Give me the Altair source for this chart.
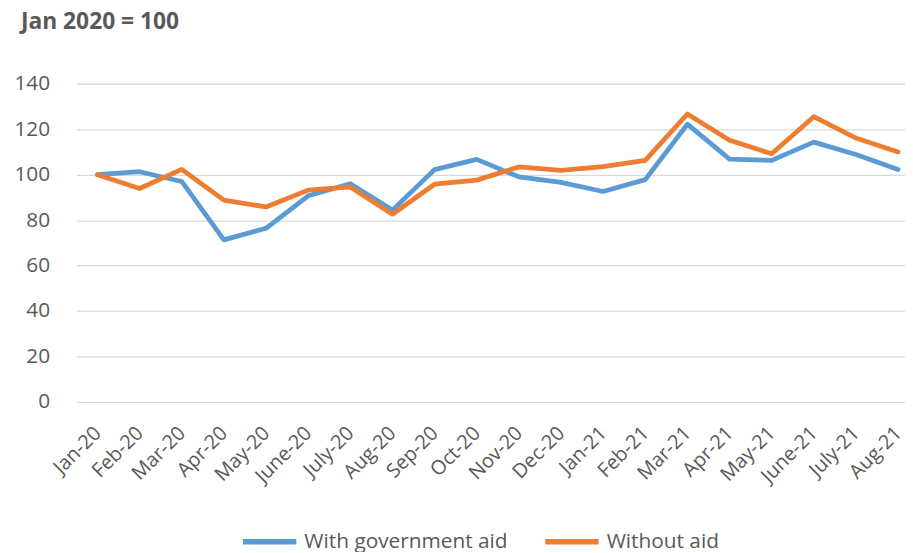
import altair as alt
import pandas as pd

months = ["Jan-20", "Feb-20", "Mar-20", "Apr-20", "May-20", "June-20", "July-20",
          "Aug-20", "Sep-20", "Oct-20", "Nov-20", "Dec-20", "Jan-21", "Feb-21",
          "Mar-21", "Apr-21", "May-21", "June-21", "July-21", "Aug-21"]
with_aid = [100, 101.3, 97.0, 71.3, 76.4, 90.7, 96.0, 84.4, 102.2, 106.7,
            99.0, 96.6, 92.6, 97.8, 122.2, 106.8, 106.3, 114.3, 108.9, 102.3]
without_aid = [100, 93.9, 102.3, 88.8, 85.8, 93.2, 94.6, 82.6, 95.8, 97.6,
               103.4, 101.9, 103.5, 106.3, 126.7, 115.1, 109.2, 125.5, 116.1, 110.0]
series_names = ["With government aid", "Without aid"]
series_colors = ["#5B9BD5", "#ED7D31"]
y_ticks = [0, 20, 40, 60, 80, 100, 120, 140]
title_text = "Jan 2020 = 100"

rows = []
for i, m in enumerate(months):
    rows.append({"idx": i, "month": m, "series": series_names[0], "value": with_aid[i]})
for i, m in enumerate(months):
    rows.append({"idx": i, "month": m, "series": series_names[1], "value": without_aid[i]})
df = pd.DataFrame(rows)

label_expr = "[" + ",".join("'" + m + "'" for m in months) + "][datum.value]"
FONT = "Open Sans"
TXT = "#595959"

lines = alt.Chart(df).mark_line(strokeWidth=4.8, strokeJoin="round", strokeCap="round").encode(
    x=alt.X("idx:Q",
            scale=alt.Scale(domain=[-0.5, 19.1644], nice=False, zero=False),
            axis=alt.Axis(values=list(range(len(months))), labelExpr=label_expr,
                          title=None, grid=False, ticks=False, domain=False,
                          labelAngle=-45, labelAlign="right", labelBaseline="middle",
                          labelPadding=28, labelFontSize=20, labelFont=FONT,
                          labelColor=TXT, labelOverlap=False, labelBound=False,
                          labelFlush=False)),
    y=alt.Y("value:Q",
            scale=alt.Scale(domain=[0, 140], nice=False),
            axis=alt.Axis(values=y_ticks, title=None, grid=True, gridColor="#D9D9D9",
                          gridWidth=1.3, ticks=False, domain=False, labelPadding=27,
                          labelFontSize=21, labelFont=FONT, labelColor=TXT)),
    color=alt.Color("series:N",
                    scale=alt.Scale(domain=series_names, range=series_colors),
                    legend=alt.Legend(orient="none", direction="horizontal", title=None,
                                      legendX=165, legendY=432, symbolType="stroke",
                                      symbolSize=2900, symbolStrokeWidth=5.5,
                                      labelFontSize=21, labelFont=FONT, labelColor=TXT,
                                      labelOffset=5, columnPadding=26, padding=0,
                                      labelLimit=400)),
    detail="series:N",
)

title = alt.Chart(pd.DataFrame({"t": [title_text]})).mark_text(
    align="left", baseline="alphabetic", fontSize=23, fontWeight="bold",
    font=FONT, color=TXT
).encode(text="t:N", x=alt.value(-56), y=alt.value(-55))

chart = alt.layer(lines, title).properties(
    width=836, height=321,
    autosize=alt.AutoSizeParams(type="none"),
    padding={"left": 69, "top": 74, "right": 0, "bottom": 149},
).configure_view(stroke=None)

chart.save("out.html", embed_options={"renderer": "svg", "actions": False})
